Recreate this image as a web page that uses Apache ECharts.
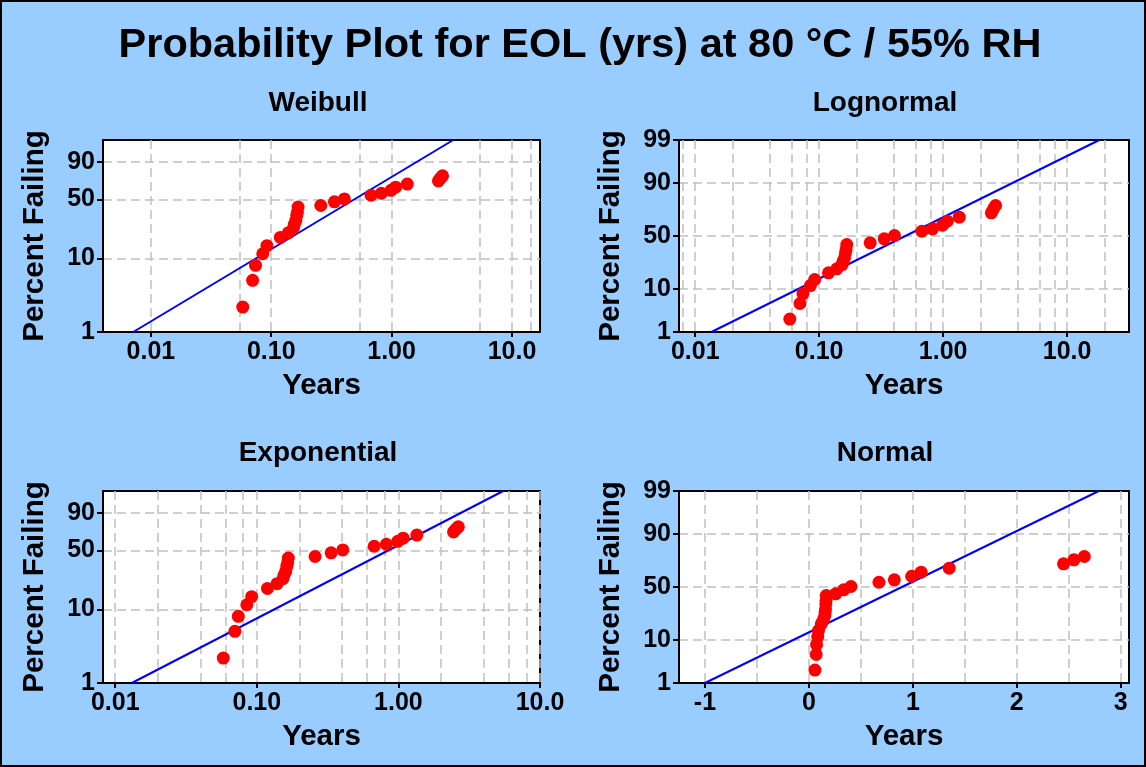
<!DOCTYPE html>
<html>
<head>
<meta charset="utf-8">
<script src="https://cdn.jsdelivr.net/npm/echarts@6/dist/echarts.min.js"></script>
<style>
  html, body { margin: 0; padding: 0; background: #99ccff; }
  #chart { width: 1146px; height: 767px; }
</style>
</head>
<body>
<div id="chart"></div>
<script>
// End-of-life times (years) and their plotted percent failing
const years = [0.058, 0.070, 0.074, 0.085, 0.092, 0.119, 0.139, 0.153, 0.156, 0.160, 0.163, 0.165,
               0.167, 0.258, 0.335, 0.405, 0.674, 0.822, 0.989, 1.08, 1.35, 2.45, 2.55, 2.65];
const percentFailing = [2.2, 5.1, 8.1, 11.5, 14.6, 18.6, 21.3, 24.4, 27.0, 29.8, 34.2, 37.1,
                        41.8, 43.4, 47.3, 50.5, 54.6, 56.9, 60.3, 64.0, 67.6, 71.3, 74.5, 77.0];

// Fitted distribution lines, endpoints as [years, percent]
const weibullFit = [[0.00713, 1], [3.25, 99]];
const lognormalFit = [[0.0135, 1], [18.2, 99]];
const exponentialFit = [[0.0131, 1], [5.5, 99]];
const normalFit = [[-1.0, 1], [2.79, 99]];

// Tick labels and grid positions
const percentLabelsShort = [1, 10, 50, 90];
const percentLabelsFull = [1, 10, 50, 90, 99];
const percentGrid = [10, 50, 90];
const logYearTicks = [0.01, 0.1, 1, 10];
const logYearTickLabels = ['0.01', '0.10', '1.00', '10.0'];
const linYearTicks = [-1, 0, 1, 2, 3];
const weibullYearGrid = [0.01, 0.0544, 0.1, 0.544, 1, 5.44, 10, 14.4];
const logYearGrid = [0.008, 0.01, 0.02, 0.04, 0.06, 0.08, 0.1, 0.2, 0.4, 0.6, 0.8, 1, 2, 4, 6, 8, 10, 20];
const linYearGrid = [-1, -0.5, 0, 0.5, 1, 1.5, 2, 2.5, 3];

// Probability-paper transforms
function probit(p) {
  const a = [-3.969683028665376e+01, 2.209460984245205e+02, -2.759285104469687e+02, 1.383577518672690e+02, -3.066479806614716e+01, 2.506628277459239e+00];
  const b = [-5.447609879822406e+01, 1.615858368580409e+02, -1.556989798598866e+02, 6.680131188771972e+01, -1.328068155288572e+01];
  const c = [-7.784894002430293e-03, -3.223964580411365e-01, -2.400758277161838e+00, -2.549732539343734e+00, 4.374664141464968e+00, 2.938163982698783e+00];
  const d = [7.784695709041462e-03, 3.224671290700398e-01, 2.445134137142996e+00, 3.754408661907416e+00];
  const pl = 0.02425, ph = 1 - pl;
  let q, r;
  if (p < pl) {
    q = Math.sqrt(-2 * Math.log(p));
    return (((((c[0]*q+c[1])*q+c[2])*q+c[3])*q+c[4])*q+c[5]) / ((((d[0]*q+d[1])*q+d[2])*q+d[3])*q+1);
  }
  if (p <= ph) {
    q = p - 0.5; r = q * q;
    return (((((a[0]*r+a[1])*r+a[2])*r+a[3])*r+a[4])*r+a[5])*q / (((((b[0]*r+b[1])*r+b[2])*r+b[3])*r+b[4])*r+1);
  }
  q = Math.sqrt(-2 * Math.log(1 - p));
  return -(((((c[0]*q+c[1])*q+c[2])*q+c[3])*q+c[4])*q+c[5]) / ((((d[0]*q+d[1])*q+d[2])*q+d[3])*q+1);
}
const weibullScale = pct => Math.log(-Math.log(1 - pct / 100));
const normalScale = pct => probit(pct / 100);

const FONT = '"Liberation Sans", Arial, sans-serif';
const GRID_LINE = { color: '#c0c0c0', width: 1.5, type: [9, 5] };

const panels = [
  { title: 'Weibull', cx: 318, cy: 103, grid: { left: 103, top: 140, width: 437, height: 192 },
    xType: 'log', xMin: 0.004, xMax: 17.1, xTicks: logYearTicks, xTickLabels: logYearTickLabels,
    xGrid: weibullYearGrid, yScale: weibullScale, yLabels: percentLabelsShort, fit: weibullFit },
  { title: 'Lognormal', cx: 885, cy: 103, grid: { left: 679, top: 140, width: 450, height: 192 },
    xType: 'log', xMin: 0.0074, xMax: 31.6, xTicks: logYearTicks, xTickLabels: logYearTickLabels,
    xGrid: logYearGrid, yScale: normalScale, yLabels: percentLabelsFull, fit: lognormalFit },
  { title: 'Exponential', cx: 318, cy: 453, grid: { left: 103, top: 491, width: 437, height: 192 },
    xType: 'log', xMin: 0.0082, xMax: 10, xTicks: logYearTicks, xTickLabels: logYearTickLabels,
    xGrid: logYearGrid, yScale: weibullScale, yLabels: percentLabelsShort, fit: exponentialFit },
  { title: 'Normal', cx: 885, cy: 453, grid: { left: 679, top: 491, width: 450, height: 192 },
    xType: 'value', xMin: -1.25, xMax: 3.08, xTicks: linYearTicks, xTickLabels: linYearTicks.map(String),
    xGrid: linYearGrid, yScale: normalScale, yLabels: percentLabelsFull, fit: normalFit }
];

function nearestLabel(v, values, labels) {
  let best = 0;
  for (let i = 1; i < values.length; i++) {
    if (Math.abs(values[i] - v) < Math.abs(values[best] - v)) best = i;
  }
  return labels[best];
}

const labelStyle = { color: '#000', fontSize: 25, fontWeight: 'bold', fontFamily: FONT };
const nameStyle = { color: '#000', fontSize: 29.5, fontWeight: 'bold', fontFamily: FONT };

const grids = [], xAxes = [], yAxes = [], series = [], graphics = [];

graphics.push({
  type: 'text', x: 580, y: 46,
  style: { text: 'Probability Plot for EOL (yrs) at 80 °C / 55% RH', fill: '#000',
           font: 'bold 41.5px ' + FONT, align: 'center', verticalAlign: 'middle' }
});

panels.forEach((pn, k) => {
  grids.push(Object.assign({ show: true, backgroundColor: '#fff', borderColor: '#000', borderWidth: 2 }, pn.grid));

  graphics.push({
    type: 'text', x: pn.cx, y: pn.cy,
    style: { text: pn.title, fill: '#000', font: 'bold 28px ' + FONT, align: 'center', verticalAlign: 'middle' }
  });

  const yMin = pn.yScale(1), yMax = pn.yScale(99);
  const yLabelVals = pn.yLabels.map(pn.yScale);
  const yGridVals = percentGrid.map(pn.yScale);

  // main x axis: line, ticks and labels
  xAxes.push({
    gridIndex: k, type: pn.xType, logBase: 10, min: pn.xMin, max: pn.xMax, position: 'bottom',
    axisLine: { show: true, onZero: false, lineStyle: { color: '#000', width: 2 } },
    axisTick: { show: true, customValues: pn.xTicks, length: 5, lineStyle: { color: '#000', width: 2 } },
    axisLabel: Object.assign({ customValues: pn.xTicks, margin: 8,
      formatter: v => nearestLabel(v, pn.xTicks, pn.xTickLabels) }, labelStyle),
    splitLine: { show: false },
    name: 'Years', nameLocation: 'middle', nameGap: 39, nameTextStyle: nameStyle
  });
  // companion x axis that only draws the dashed grid
  xAxes.push({
    gridIndex: k, type: pn.xType, logBase: 10, min: pn.xMin, max: pn.xMax, position: 'bottom',
    axisLine: { show: false, onZero: false }, axisLabel: { show: false },
    axisTick: { show: false, customValues: pn.xGrid },
    splitLine: { show: true, lineStyle: GRID_LINE }
  });

  yAxes.push({
    gridIndex: k, type: 'value', min: yMin, max: yMax, position: 'left',
    axisLine: { show: true, onZero: false, lineStyle: { color: '#000', width: 2 } },
    axisTick: { show: true, customValues: yLabelVals, length: 6, lineStyle: { color: '#000', width: 2 } },
    axisLabel: Object.assign({ customValues: yLabelVals, margin: 8,
      formatter: v => String(nearestLabel(v, yLabelVals, pn.yLabels)) }, labelStyle),
    splitLine: { show: false },
    name: 'Percent Failing', nameLocation: 'middle', nameGap: 53, nameRotate: 90, nameTextStyle: nameStyle
  });
  // companion y axis that only draws the dashed grid
  yAxes.push({
    gridIndex: k, type: 'value', min: yMin, max: yMax, position: 'left',
    axisLine: { show: false, onZero: false }, axisLabel: { show: false },
    axisTick: { show: false, customValues: yGridVals },
    splitLine: { show: true, lineStyle: GRID_LINE }
  });

  series.push({
    type: 'line', xAxisIndex: 2 * k, yAxisIndex: 2 * k, showSymbol: false, symbol: 'none',
    data: pn.fit.map(([t, pct]) => [t, pn.yScale(pct)]),
    lineStyle: { color: '#0000ff', width: 2 }, z: 3, silent: true
  });
  series.push({
    type: 'scatter', xAxisIndex: 2 * k, yAxisIndex: 2 * k, symbol: 'circle', symbolSize: 13,
    data: years.map((t, i) => [t, pn.yScale(percentFailing[i])]),
    itemStyle: { color: '#ff0000', opacity: 1 }, z: 4, silent: true
  });
});

graphics.push({
  type: 'rect', shape: { x: 1, y: 1, width: 1144, height: 765 }, silent: true, z: 100,
  style: { fill: null, stroke: '#000', lineWidth: 2 }
});

const chart = echarts.init(document.getElementById('chart'), null, { renderer: 'canvas' });
chart.setOption({
  animation: false,
  backgroundColor: '#99ccff',
  grid: grids,
  xAxis: xAxes,
  yAxis: yAxes,
  series: series,
  graphic: graphics
});
</script>
</body>
</html>
